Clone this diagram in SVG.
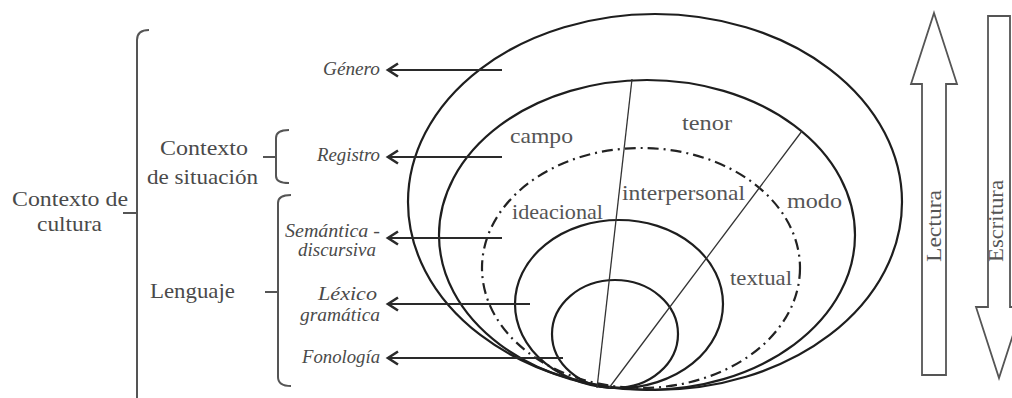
<svg xmlns="http://www.w3.org/2000/svg" width="1012" height="398" viewBox="0 0 1012 398" font-family="Liberation Serif, DejaVu Serif, serif">
<style>
  text { font-family: "Liberation Serif", "DejaVu Serif", serif; }
  .up { font-size: 22px; fill: #4a4a4a; }
  .it { font-size: 19px; font-style: italic; fill: #4a4a4a; text-anchor: end; }
  .in { font-size: 21px; fill: #555; }
  .rot { font-size: 20px; fill: #555; text-anchor: middle; }
  .ell { fill: none; stroke: #1e1e1e; stroke-width: 2.2; }
  .dash { fill: none; stroke: #222; stroke-width: 2.2; stroke-dasharray: 11 5 2 5; }
  .rad { stroke: #333; stroke-width: 1.3; }
  .br { fill: none; stroke: #555; stroke-width: 2; }
  .arr { stroke: #2a2a2a; stroke-width: 2.2; fill: none; }
  .big { fill: #fff; stroke: #555; stroke-width: 1.8; stroke-linejoin: miter; }
</style>
<defs>
  <marker id="chev" markerUnits="userSpaceOnUse" markerWidth="16" markerHeight="18" refX="0" refY="0" viewBox="-12 -9 14 18" orient="auto">
    <path d="M-10,-6.5 L0,0 L-10,6.5" fill="none" stroke="#2a2a2a" stroke-width="2.6"/>
  </marker>
</defs>

<rect width="1012" height="398" fill="#fff"/>

<g id="layer-genero"><ellipse class="ell" cx="655" cy="202" rx="247" ry="188"/></g>
<g id="layer-registro"><ellipse class="ell" cx="647" cy="235" rx="208" ry="155"/></g>
<g id="layer-semantica"><ellipse class="dash" cx="641" cy="268" rx="159" ry="120"/></g>
<g id="layer-lexico"><ellipse class="ell" cx="619" cy="304" rx="104" ry="84"/></g>
<g id="layer-fonologia"><ellipse class="ell" cx="615" cy="334" rx="63" ry="54"/></g>

<g id="dividers">
  <line class="rad" x1="597" y1="388" x2="632" y2="79"/>
  <line class="rad" x1="609" y1="388" x2="802" y2="131"/>
</g>

<g id="inner-labels">
  <text class="in" x="510" y="143" textLength="63" lengthAdjust="spacingAndGlyphs">campo</text>
  <text class="in" x="682" y="130" textLength="50" lengthAdjust="spacingAndGlyphs">tenor</text>
  <text class="in" x="622" y="200" textLength="123" lengthAdjust="spacingAndGlyphs">interpersonal</text>
  <text class="in" x="512" y="219" textLength="91" lengthAdjust="spacingAndGlyphs">ideacional</text>
  <text class="in" x="787" y="208" textLength="55" lengthAdjust="spacingAndGlyphs">modo</text>
  <text class="in" x="730" y="285" textLength="62" lengthAdjust="spacingAndGlyphs">textual</text>
</g>

<g id="connectors">
  <line class="arr" x1="502" y1="70" x2="388" y2="70" marker-end="url(#chev)"/>
  <line class="arr" x1="502" y1="157" x2="388" y2="157" marker-end="url(#chev)"/>
  <line class="arr" x1="502" y1="238" x2="388" y2="238" marker-end="url(#chev)"/>
  <line class="arr" x1="530" y1="304" x2="388" y2="304" marker-end="url(#chev)"/>
  <line class="arr" x1="563" y1="358" x2="388" y2="358" marker-end="url(#chev)"/>
</g>

<g id="level-labels">
  <text class="it" x="380" y="75" textLength="57" lengthAdjust="spacingAndGlyphs">Género</text>
  <text class="it" x="380" y="161" textLength="63" lengthAdjust="spacingAndGlyphs">Registro</text>
  <text class="it" x="380" y="237" textLength="95" lengthAdjust="spacingAndGlyphs">Semántica -</text>
  <text class="it" x="376" y="256" textLength="78" lengthAdjust="spacingAndGlyphs">discursiva</text>
  <text class="it" x="377" y="300" textLength="59" lengthAdjust="spacingAndGlyphs">Léxico</text>
  <text class="it" x="380" y="321" textLength="80" lengthAdjust="spacingAndGlyphs">gramática</text>
  <text class="it" x="380" y="363" textLength="78" lengthAdjust="spacingAndGlyphs">Fonología</text>
</g>

<g id="brackets">
  <path class="br" d="M149,30 Q137,30 137,40 L137,398"/>
  <path class="br" d="M123,213 L137,213"/>
  <path class="br" d="M289,130 Q276,130 276,138 L276,176 Q276,183 289,183"/>
  <path class="br" d="M263,157 L276,157"/>
  <path class="br" d="M291,195 Q278,195 278,203 L278,377 Q278,386 291,386"/>
  <path class="br" d="M265,292 L278,292"/>
</g>

<g id="context-labels">
  <text class="up" x="12" y="206" textLength="116" lengthAdjust="spacingAndGlyphs">Contexto de</text>
  <text class="up" x="37" y="231" textLength="65" lengthAdjust="spacingAndGlyphs">cultura</text>
  <text class="up" x="160" y="155" textLength="88" lengthAdjust="spacingAndGlyphs">Contexto</text>
  <text class="up" x="147" y="184" textLength="111" lengthAdjust="spacingAndGlyphs">de situación</text>
  <text class="up" x="150" y="298" textLength="85" lengthAdjust="spacingAndGlyphs">Lenguaje</text>
</g>

<g id="lectura">
  <polygon class="big" points="934,13 957,84 946,84 946,375 922,375 922,84 911,84"/>
  <text class="rot" transform="translate(941,226) rotate(-90)" textLength="72" lengthAdjust="spacingAndGlyphs">Lectura</text>
</g>
<g id="escritura">
  <polygon class="big" points="988,16 1010,16 1010,307 1022,307 999,378 976,307 988,307"/>
  <text class="rot" transform="translate(1003,221) rotate(-90)" textLength="82" lengthAdjust="spacingAndGlyphs">Escritura</text>
</g>
</svg>
